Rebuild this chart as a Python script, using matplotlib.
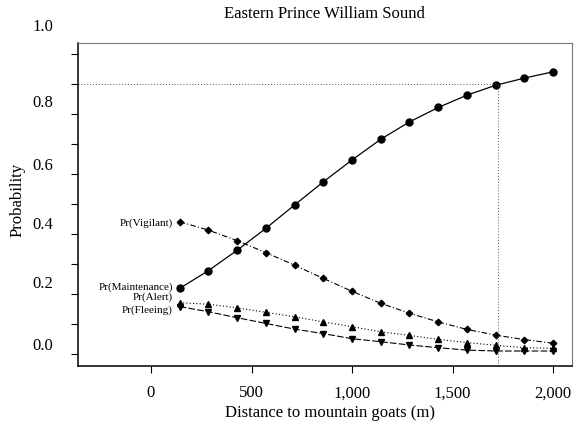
import numpy as np
import matplotlib
matplotlib.use("Agg")
import matplotlib.pyplot as plt
import matplotlib.transforms as mtransforms

plt.rcParams['font.family'] = ['Liberation Serif', 'DejaVu Serif']

# ---- data ----
distance = [142.9, 285.7, 428.6, 571.4, 714.3, 857.1, 1000.0,
            1142.9, 1285.7, 1428.6, 1571.4, 1714.3, 1857.1, 2000.0]
p_maintenance = [0.219, 0.278, 0.346, 0.419, 0.497, 0.574, 0.647,
                 0.716, 0.774, 0.822, 0.863, 0.896, 0.920, 0.941]
p_vigilant = [0.441, 0.413, 0.378, 0.338, 0.296, 0.252, 0.209,
              0.169, 0.136, 0.107, 0.082, 0.063, 0.048, 0.036]
p_alert = [0.171, 0.166, 0.154, 0.139, 0.124, 0.107, 0.091,
           0.074, 0.062, 0.049, 0.038, 0.029, 0.021, 0.019]
p_fleeing = [0.158, 0.141, 0.121, 0.102, 0.083, 0.068, 0.051,
             0.041, 0.030, 0.021, 0.013, 0.010, 0.010, 0.010]

threshold_prob = 0.9
threshold_dist = 1725

xticks = [0, 500, 1000, 1500, 2000]
xticklabels = ["0", "500", "1,000", "1,500", "2,000"]
yticks_minor = [0.0, 0.1, 0.2, 0.3, 0.4, 0.5, 0.6, 0.7, 0.8, 0.9, 1.0]
ytick_labels = ["0.0", "0.2", "0.4", "0.6", "0.8", "1.0"]
ytick_label_pos = [0.027, 0.233, 0.43, 0.627, 0.837, 1.09]

title = "Eastern Prince William Sound"
xlabel = "Distance to mountain goats (m)"
ylabel = "Probability"

# ---- figure ----
fig = plt.figure(figsize=(5.76, 4.25), dpi=100)
ax = fig.add_axes([78/576, 1 - 366/425, (572-78)/576, (366-43)/425])
ax.set_xlim(-363, 2094)
ax.set_ylim(-0.04, 1.037)

ax.plot(distance, p_maintenance, '-', color='black', lw=0.9,
        marker='o', ms=5)
ax.plot(distance, p_vigilant, linestyle=(0, (5, 2, 1, 2)), color='black', lw=0.8,
        marker='D', ms=3.3)
ax.plot(distance, p_alert, linestyle=(0, (1, 2)), color='black', lw=0.8,
        marker='^', ms=4)
ax.plot(distance, p_fleeing, linestyle=(0, (6, 2)), color='black', lw=0.8,
        marker='v', ms=4)

# reference lines
ax.plot([ax.get_xlim()[0], threshold_dist], [threshold_prob, threshold_prob],
        linestyle=(0, (1, 2)), color='#555555', lw=0.7)
ax.plot([threshold_dist, threshold_dist], [ax.get_ylim()[0], threshold_prob],
        linestyle=(0, (1, 2)), color='#555555', lw=0.7)

# series labels
lab_kw = dict(textcoords='offset points', ha='right', va='center', fontsize=8)
ax.annotate("Pr(Vigilant)", (distance[0], p_vigilant[0]), xytext=(-5, -1), **lab_kw)
ax.annotate("Pr(Maintenance)", (distance[0], p_maintenance[0]), xytext=(-5, 0.5), **lab_kw)
ax.annotate("Pr(Alert)", (distance[0], p_alert[0]), xytext=(-5, 4), **lab_kw)
ax.annotate("Pr(Fleeing)", (distance[0], p_fleeing[0]), xytext=(-5, -2.5), **lab_kw)

# axes styling
ax.set_xticks(xticks)
ax.set_xticklabels(xticklabels, fontsize=12)
ax.tick_params(axis='x', direction='out', length=5, width=0.8, pad=9)
ax.set_yticks(yticks_minor)
ax.set_yticklabels([])
ax.tick_params(axis='y', direction='out', length=5, width=0.8)
trans = mtransforms.blended_transform_factory(ax.transAxes, ax.transData)
for lbl, pos in zip(ytick_labels, ytick_label_pos):
    ax.text(-25/494, pos, lbl, transform=trans, ha='right', va='center',
            fontsize=12, clip_on=False)

for side in ['left', 'bottom']:
    ax.spines[side].set_color('black')
    ax.spines[side].set_linewidth(1.1)
for side in ['top', 'right']:
    ax.spines[side].set_color('#777777')
    ax.spines[side].set_linewidth(0.8)

fig.text(324/576, 1 - 14/425, title, ha='center', va='center', fontsize=12)
fig.text(330/576, 1 - 413/425, xlabel, ha='center', va='center', fontsize=12)
fig.text(18/576, 1 - 200/425, ylabel, ha='center', va='center', fontsize=12,
         rotation=90)

fig.savefig("out.png", dpi=100)
